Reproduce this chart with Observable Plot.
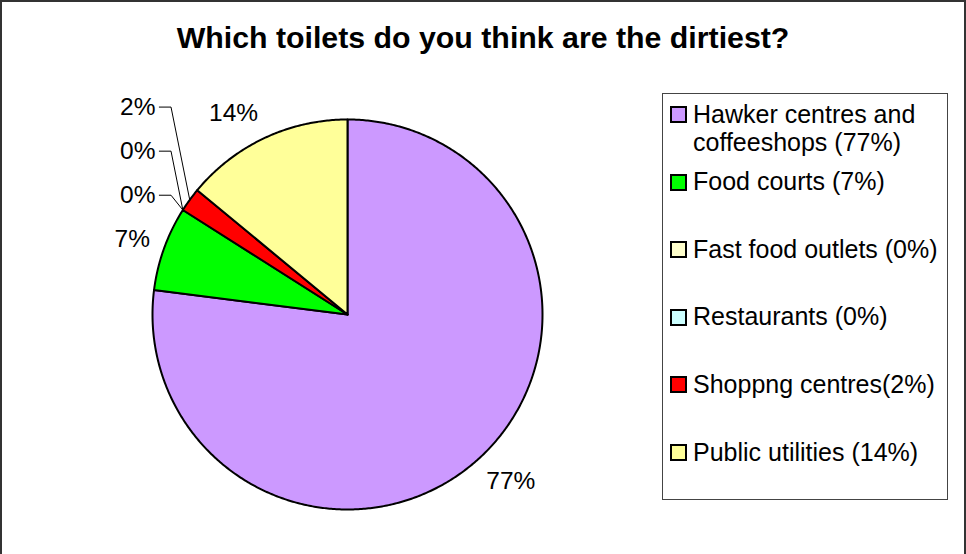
<!DOCTYPE html>
<html>
<head>
<meta charset="utf-8">
<script src="https://cdn.jsdelivr.net/npm/d3@7"></script>
<script src="https://cdn.jsdelivr.net/npm/@observablehq/plot@0.6"></script>
<style>
  html, body { margin: 0; padding: 0; background: #fff; }
  #wrap { position: relative; width: 966px; height: 554px; overflow: hidden; font-family: "Liberation Sans", Arial, sans-serif; }
  #frame { position: absolute; left: 0; top: 0; width: 962px; height: 570px; border: 2px solid #333; }
  #title { position: absolute; left: 0; top: 23px; width: 966px; text-align: center; font-weight: bold; font-size: 30.3px; line-height: 30px; color: #000; }
  #chart { position: absolute; left: 0; top: 0; }
  #legend { position: absolute; left: 662px; top: 93px; width: 286px; height: 407px; border: 1px solid #444; box-sizing: border-box; }
  .item { position: absolute; left: 0; width: 286px; }
  .sw { position: absolute; left: 7px; top: 6.5px; width: 17px; height: 17px; border: 2px solid #000; box-sizing: border-box; }
  .lab { position: absolute; left: 30px; top: 0; width: 255px; font-size: 25px; line-height: 28.5px; color: #000; }
</style>
</head>
<body>
<div id="wrap">
  <div id="frame"></div>
  <div id="chart"></div>
  <div id="title"></div>
  <div id="legend"></div>
</div>
<script>
const titleText = "Which toilets do you think are the dirtiest?";
const categories = ["Hawker centres and coffeeshops", "Food courts", "Fast food outlets", "Restaurants", "Shoppng centres", "Public utilities"];
const values = [77, 7, 0, 0, 2, 14];
const legendLabels = ["Hawker centres and coffeeshops (77%)", "Food courts (7%)", "Fast food outlets (0%)", "Restaurants (0%)", "Shoppng centres(2%)", "Public utilities (14%)"];
const valueLabels = ["77%", "7%", "0%", "0%", "2%", "14%"];
const colors = ["#CC99FF", "#00FF00", "#FFFFCC", "#CCFFFF", "#FF0000", "#FFFF99"];

document.getElementById("title").textContent = titleText;

const R_PX = 195;          // pie radius in pixels (x/y range spans 2*R_PX)
const FS = 24.5;           // label font size
const total = d3.sum(values);
let a0 = 0;
const slices = values.map((v, i) => {
  const a1 = a0 + v / total * 2 * Math.PI;
  const s = {i, cat: categories[i], v, a0, a1, mid: (a0 + a1) / 2};
  a0 = a1;
  return s;
});

// polygon points for each non-empty slice (angles clockwise from 12 o'clock)
const polyPts = [];
for (const s of slices) {
  if (s.v <= 0) continue;
  polyPts.push({cat: s.cat, x: 0, y: 0});
  const n = Math.max(2, Math.ceil((s.a1 - s.a0) / (Math.PI / 360)));
  for (let k = 0; k <= n; k++) {
    const a = s.a0 + (s.a1 - s.a0) * k / n;
    polyPts.push({cat: s.cat, x: Math.sin(a), y: Math.cos(a)});
  }
  polyPts.push({cat: s.cat, x: 0, y: 0});
}

// labels: outside the pie, box pushed away from the edge
const labels = [];
const leaders = [];
let lastY = 0;
const colX = -0.985, step = 0.226;
const gap = 210 / R_PX;
for (const s of slices) {
  const text = valueLabels[s.i];
  const small = s.v / total < 0.03;
  if (!small) {
    const w = ((text.length - 1) * 0.556 + 0.889) * FS;
    const hw = w / 2 / R_PX, hh = 12 / R_PX;
    const sx = Math.sin(s.mid), cy = Math.cos(s.mid);
    const x = sx * gap + Math.sign(sx) * hw;
    const y = cy * (gap + hh);
    labels.push({x, y, text, anchor: "middle"});
    lastY = y;
  } else {
    const y = lastY + step;
    labels.push({x: colX, y, text, anchor: "end"});
    leaders.push({id: s.i, x: colX + 0.02, y});
    leaders.push({id: s.i, x: colX + 0.08, y});
    leaders.push({id: s.i, x: Math.sin(s.mid), y: Math.cos(s.mid)});
    lastY = y;
  }
}

const plot = Plot.plot({
  width: 966,
  height: 554,
  x: {domain: [-1, 1], range: [152, 152 + 2 * R_PX], axis: null},
  y: {domain: [-1, 1], range: [119 + 2 * R_PX, 119], axis: null},
  color: {domain: categories, range: colors},
  style: {fontFamily: "'Liberation Sans', Arial, sans-serif", background: "transparent", overflow: "visible"},
  marks: [
    Plot.line(polyPts, {x: "x", y: "y", z: "cat", fill: "cat", stroke: "#000", strokeWidth: 2, strokeLinejoin: "round", curve: "linear"}),
    Plot.line(leaders, {x: "x", y: "y", z: "id", stroke: "#000", strokeWidth: 1}),
    Plot.text(labels.filter(d => d.anchor === "middle"), {x: "x", y: "y", text: "text", fontSize: FS, fill: "#000", textAnchor: "middle"}),
    Plot.text(labels.filter(d => d.anchor === "end"), {x: "x", y: "y", text: "text", fontSize: FS, fill: "#000", textAnchor: "end"})
  ]
});
document.getElementById("chart").appendChild(plot);

// legend
const legend = document.getElementById("legend");
legendLabels.forEach((t, i) => {
  const item = document.createElement("div");
  item.className = "item";
  item.style.top = (5.5 + i * 67.6) + "px";
  const sw = document.createElement("div");
  sw.className = "sw";
  sw.style.background = colors[i];
  const lab = document.createElement("div");
  lab.className = "lab";
  lab.textContent = t;
  item.appendChild(sw);
  item.appendChild(lab);
  legend.appendChild(item);
});
</script>
</body>
</html>
